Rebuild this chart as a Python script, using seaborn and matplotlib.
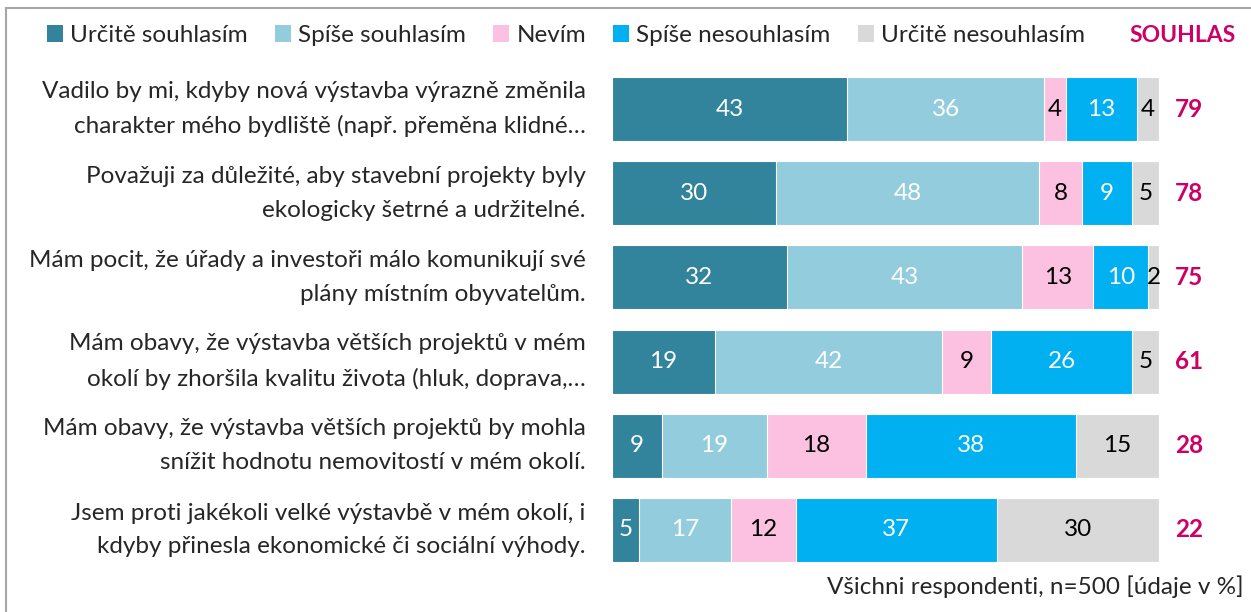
import numpy as np
import pandas as pd
import matplotlib.pyplot as plt
import seaborn as sns
from matplotlib.patches import Patch
from matplotlib.lines import Line2D

statements = [
    "Vadilo by mi, kdyby nová výstavba výrazně změnila\ncharakter mého bydliště (např. přeměna klidné…",
    "Považuji za důležité, aby stavební projekty byly\nekologicky šetrné a udržitelné.",
    "Mám pocit, že úřady a investoři málo komunikují své\nplány místním obyvatelům.",
    "Mám obavy, že výstavba větších projektů v mém\nokolí by zhoršila kvalitu života (hluk, doprava,…",
    "Mám obavy, že výstavba větších projektů by mohla\nsnížit hodnotu nemovitostí v mém okolí.",
    "Jsem proti jakékoli velké výstavbě v mém okolí, i\nkdyby přinesla ekonomické či sociální výhody.",
]
answers = ["Určitě souhlasím", "Spíše souhlasím", "Nevím", "Spíše nesouhlasím", "Určitě nesouhlasím"]
urcite_souhlasim = [43, 30, 32, 19, 9, 5]
spise_souhlasim = [36, 48, 43, 42, 19, 17]
nevim = [4, 8, 13, 9, 18, 12]
spise_nesouhlasim = [13, 9, 10, 26, 38, 37]
urcite_nesouhlasim = [4, 5, 2, 5, 15, 30]
souhlas = [79, 78, 75, 61, 28, 22]

colors = ["#31849B", "#93CDDD", "#FCC1E0", "#00B0F0", "#D9D9D9"]
text_colors = ["white", "white", "black", "white", "black"]
magenta = "#CC0066"

sns.set_style("white")
plt.rcParams["font.family"] = ["Lato", "DejaVu Sans"]
FS = 17.5

values = np.array([urcite_souhlasim, spise_souhlasim, nevim, spise_nesouhlasim, urcite_nesouhlasim])
# rounded shares don't always add up to 100, so scale each row to full width
shares = values / values.sum(axis=0) * 100
cum = shares.cumsum(axis=0)

fig = plt.figure(figsize=(12.51, 6.12), dpi=100)
ax = fig.add_axes([612 / 1251, 1 - 572 / 612, (1159 - 612) / 1251, (572 - 67) / 612])

# stacked bars: draw cumulative totals from the widest layer down
for i in reversed(range(len(answers))):
    df = pd.DataFrame({"statement": statements, "value": cum[i]})
    sns.barplot(data=df, x="value", y="statement", orient="h", color=colors[i],
                saturation=1, width=0.76, edgecolor="white", linewidth=0.8, ax=ax)

for i in range(len(answers)):
    for j in range(len(statements)):
        ax.text(cum[i, j] - shares[i, j] / 2, j, str(values[i, j]), ha="center",
                va="center", fontsize=FS, color=text_colors[i])

for j, s in enumerate(souhlas):
    ax.text(105.5, j, str(s), ha="center", va="center", fontsize=FS,
            fontweight="bold", color=magenta)

ax.set_xlim(0, 100)
ax.set_ylim(5.5, -0.5)
ax.set_xlabel("")
ax.set_ylabel("")
ax.set_xticks([])
ax.set_yticks(range(len(statements)))
ax.set_yticklabels(statements, fontsize=FS, ha="right", va="center", linespacing=1.75)
ax.tick_params(axis="y", length=0, pad=19)
sns.despine(ax=ax, left=True, bottom=True)

handles = [Patch(facecolor=c, edgecolor="none") for c in colors]
fig.legend(handles, answers, loc="center left", bbox_to_anchor=(0.030, 0.942),
           ncol=5, frameon=False, fontsize=FS, handlelength=0.65, handleheight=0.65,
           handletextpad=0.3, columnspacing=1.12, borderaxespad=0)
fig.text(1236 / 1251, 0.942, "SOUHLAS", ha="right", va="center", fontsize=FS - 1,
         fontweight="bold", color=magenta)

fig.text(1244 / 1251, 1 - 587 / 612, "Všichni respondenti, n=500 [údaje v %]",
         ha="right", va="center", fontsize=FS)

frame_color = "#A6A6A6"
fig.add_artist(Line2D([6 / 1251, 6 / 1251], [0, 1 - 8 / 612], color=frame_color, lw=1.5))
fig.add_artist(Line2D([6 / 1251, 1], [1 - 8 / 612, 1 - 8 / 612], color=frame_color, lw=1.5))

fig.savefig("out.png", dpi=100)
